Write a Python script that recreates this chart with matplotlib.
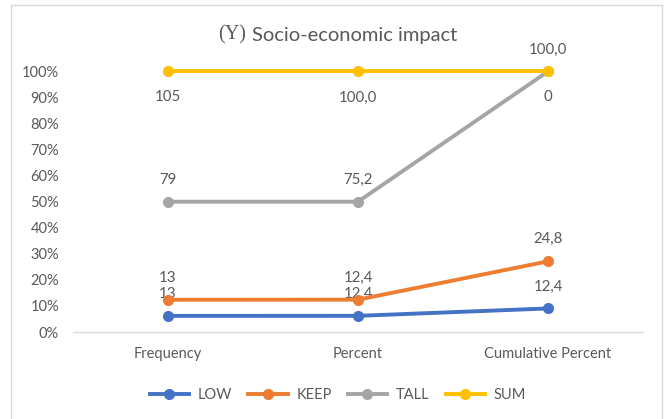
import numpy as np
import matplotlib
matplotlib.use("Agg")
import matplotlib.pyplot as plt
from matplotlib.lines import Line2D

# Data
categories = ["Frequency", "Percent", "Cumulative Percent"]
series_names = ["LOW", "KEEP", "TALL", "SUM"]
low = [13, 12.4, 12.4]
keep = [13, 12.4, 24.8]
tall = [79, 75.2, 100.0]
total = [105, 100.0, 0]
y_ticks = [0, 10, 20, 30, 40, 50, 60, 70, 80, 90, 100]

colors = ["#4472C4", "#ED7D31", "#A5A5A5", "#FFC000"]
text_color = "#595959"
grid_color = "#D9D9D9"

plt.rcParams["font.family"] = ["Lato", "DejaVu Sans"]

W, H = 665, 419
fig = plt.figure(figsize=(W / 100, H / 100), dpi=100)

# 100% stacked layout
values = np.array([low, keep, tall, total], dtype=float)
stacked = np.cumsum(values, axis=0) / values.sum(axis=0)

ax = fig.add_axes([73 / W, 1 - 332 / H, (643 - 73) / W, (332 - 71.4) / H])
x = np.arange(len(categories))
ax.set_xlim(-0.5, len(categories) - 0.5)
ax.set_ylim(0, 1)

def fmt(v, col):
    if col == 0:
        return f"{v:.0f}"
    if v == 0:
        return "0"
    return f"{v:.1f}".replace(".", ",")

for i, name in enumerate(series_names):
    ax.plot(x, stacked[i], color=colors[i], lw=2.8, marker="o", ms=7,
            solid_capstyle="round", clip_on=False, zorder=3, label=name)
    for j in range(len(categories)):
        below = (name == "SUM")
        off = -26 if below else 22
        ax.annotate(fmt(values[i, j], j), (x[j], stacked[i, j]),
                    xytext=(0, off * 0.72), textcoords="offset points",
                    ha="center", va="center", fontsize=10.8, color=text_color,
                    annotation_clip=False)

for s in ["top", "right", "left"]:
    ax.spines[s].set_visible(False)
ax.spines["bottom"].set_color(grid_color)
ax.spines["bottom"].set_linewidth(1)

ax.set_yticks([t / 100 for t in y_ticks])
ax.set_yticklabels([f"{t}%" for t in y_ticks])
ax.set_xticks(x)
ax.set_xticklabels(categories)
ax.tick_params(axis="y", length=0, pad=10, labelsize=10.5, labelcolor=text_color)
ax.tick_params(axis="x", length=0, pad=11, labelsize=10.5, labelcolor=text_color)

# Title: serif "(Y)" followed by sans text
fig.text(246 / W, 1 - 35 / H, "(Y)", family="Liberation Serif", fontsize=14.5,
         color=text_color, ha="right", va="center")
fig.text(252 / W, 1 - 35 / H, "Socio-economic impact", fontsize=14.5,
         color=text_color, ha="left", va="center")

handles = [Line2D([0], [0], color=c, lw=2.8, marker="o", ms=7) for c in colors]
fig.legend(handles, series_names, loc="center", bbox_to_anchor=(0.508, 1 - 395 / H),
           ncol=4, frameon=False, fontsize=10.5, labelcolor=text_color,
           handlelength=2.7, handletextpad=0.6, columnspacing=1.1)

# Chart frame
frame_kw = dict(color=grid_color, lw=1, transform=fig.transFigure)
fig.add_artist(Line2D([11 / W, 11 / W], [0, 1 - 5 / H], **frame_kw))
fig.add_artist(Line2D([11 / W, 662 / W], [1 - 5 / H, 1 - 5 / H], **frame_kw))
fig.add_artist(Line2D([662 / W, 662 / W], [0, 1 - 5 / H], **frame_kw))

fig.savefig("out.png", dpi=100)
